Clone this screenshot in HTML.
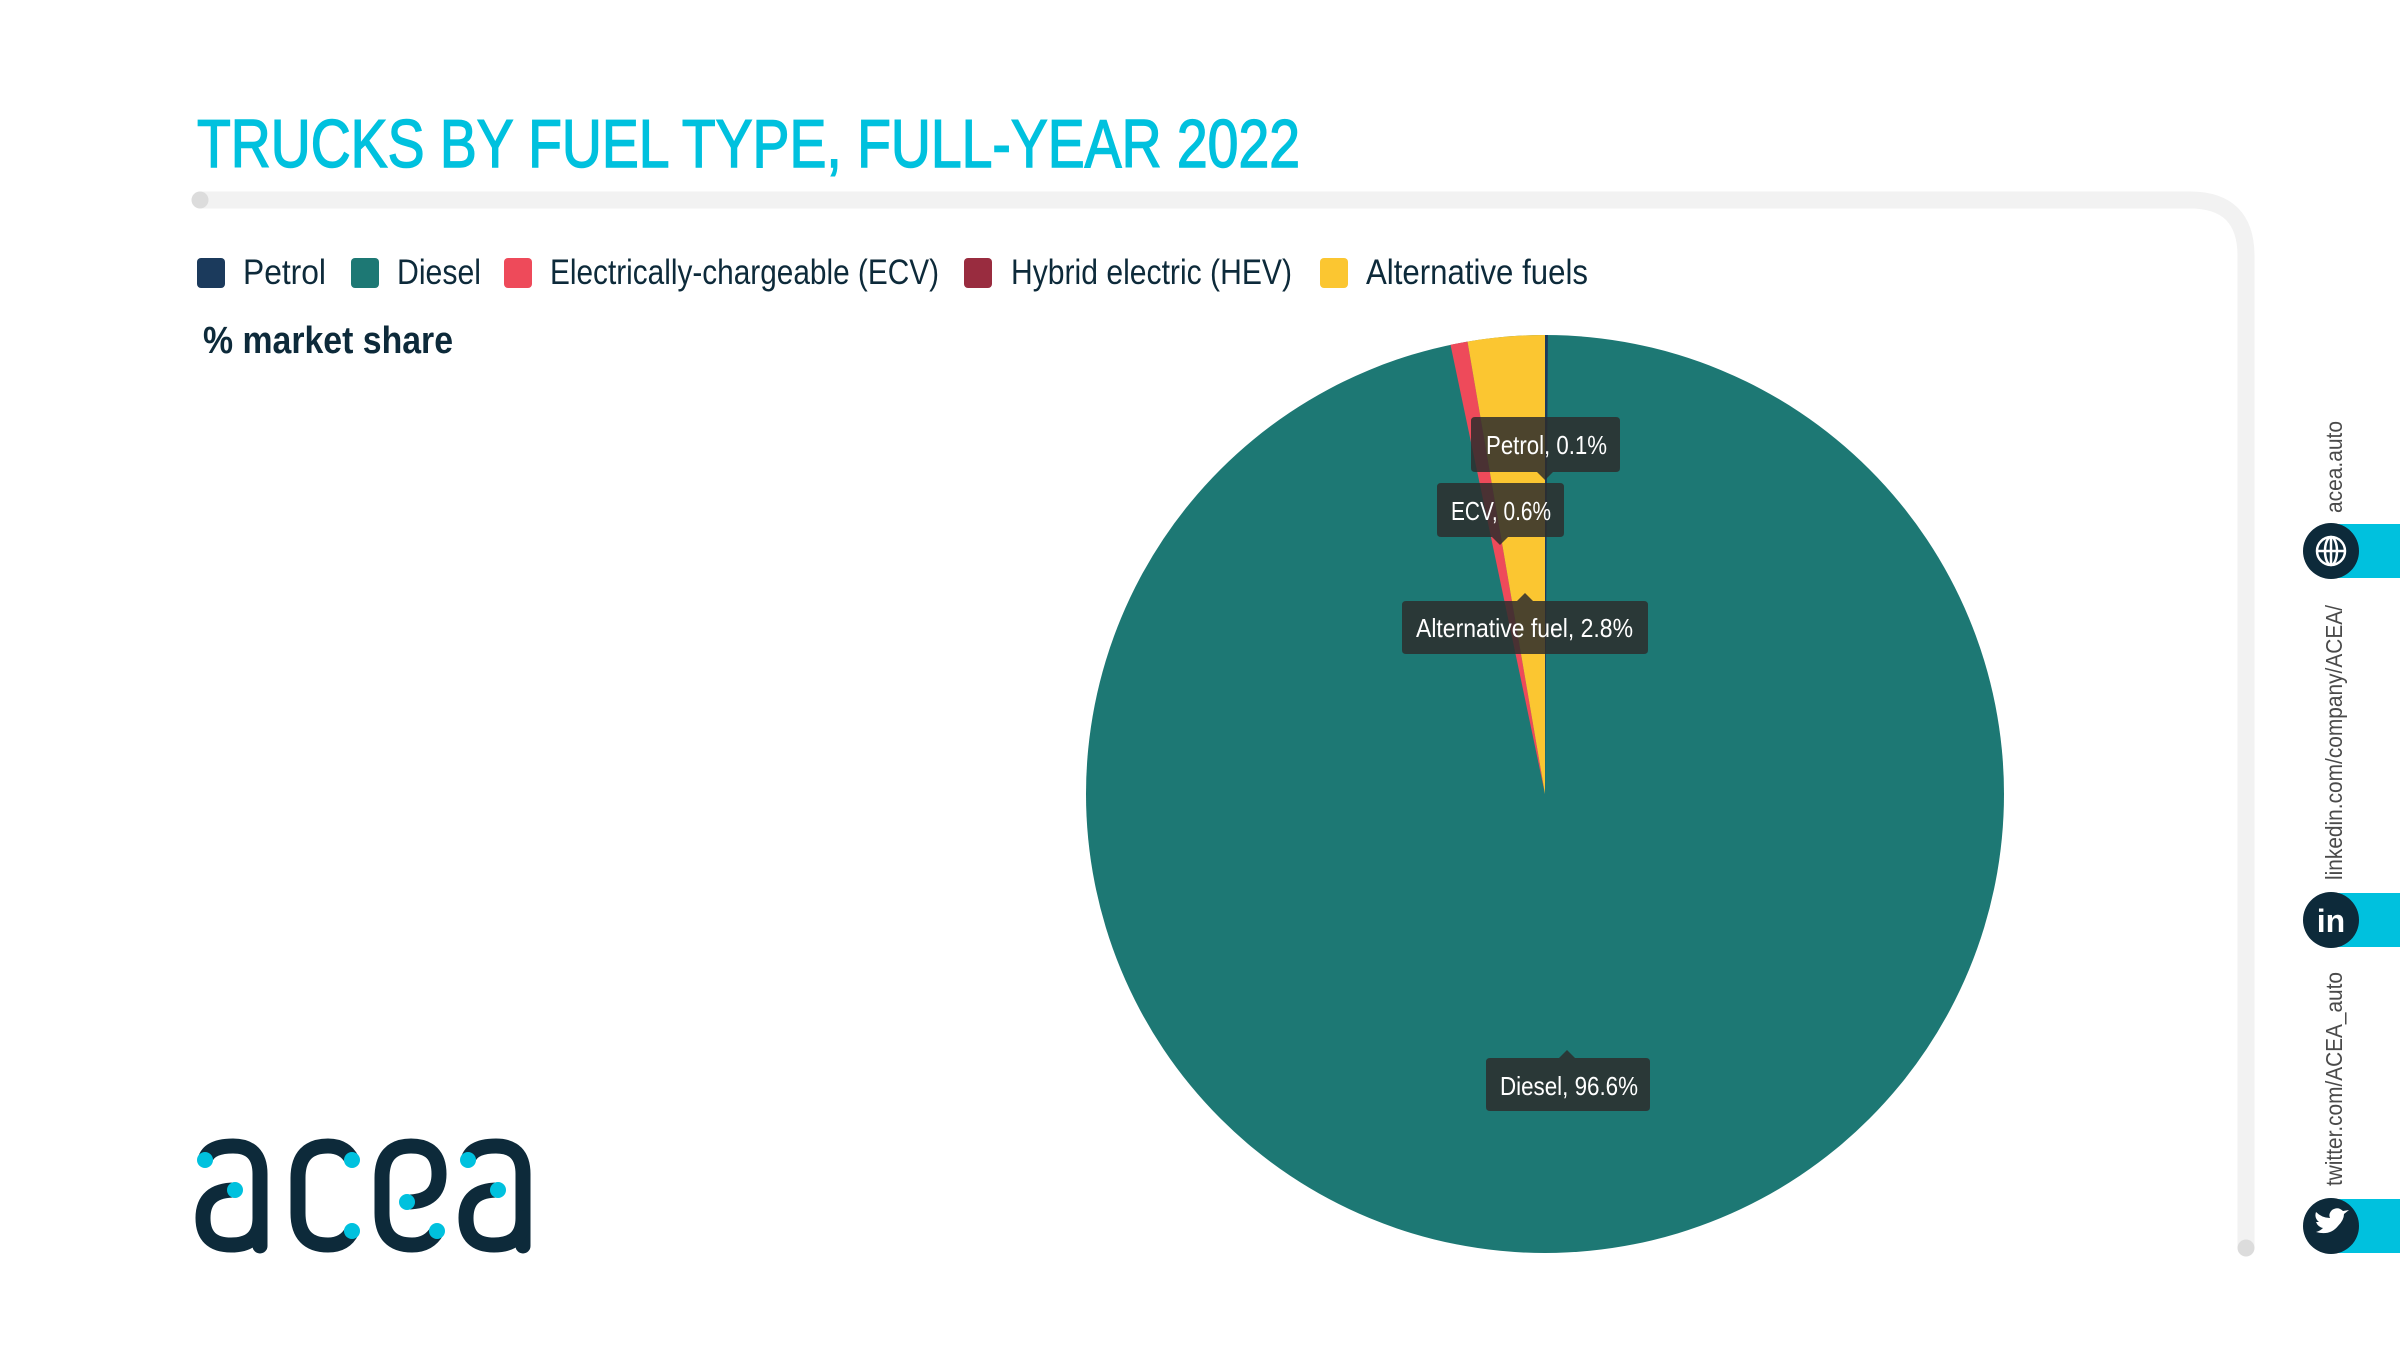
<!DOCTYPE html>
<html><head><meta charset="utf-8"><style>
html,body{margin:0;padding:0;background:#fff;}
svg{display:block;}
</style></head><body>
<svg width="2400" height="1350" viewBox="0 0 2400 1350" xmlns="http://www.w3.org/2000/svg" font-family="'Liberation Sans', sans-serif">
<rect width="2400" height="1350" fill="#fff"/>
<!-- title -->
<text x="197" y="167" font-size="68" fill="#00c1de" stroke="#00c1de" stroke-width="1.5" textLength="1103" lengthAdjust="spacingAndGlyphs">TRUCKS BY FUEL TYPE, FULL-YEAR 2022</text>
<!-- frame bar -->
<path d="M200 200 L2190 200 Q2246 200 2246 256 L2246 1248" fill="none" stroke="#f2f2f2" stroke-width="17"/>
<circle cx="200" cy="200" r="8.5" fill="#dcdcdc"/>
<circle cx="2246" cy="1248" r="8.5" fill="#dcdcdc"/>
<!-- legend -->
<g font-size="35" fill="#0d2a3a">
<rect x="197" y="258" width="28" height="30" rx="4" fill="#1b3a5c"/>
<text x="243" y="284" textLength="83" lengthAdjust="spacingAndGlyphs">Petrol</text>
<rect x="351" y="258" width="28" height="30" rx="4" fill="#1d7874"/>
<text x="397" y="284" textLength="84" lengthAdjust="spacingAndGlyphs">Diesel</text>
<rect x="504" y="258" width="28" height="30" rx="4" fill="#ee4a5a"/>
<text x="550" y="284" textLength="389" lengthAdjust="spacingAndGlyphs">Electrically-chargeable (ECV)</text>
<rect x="964" y="258" width="28" height="30" rx="4" fill="#992c3f"/>
<text x="1011" y="284" textLength="281" lengthAdjust="spacingAndGlyphs">Hybrid electric (HEV)</text>
<rect x="1320" y="258" width="28" height="30" rx="4" fill="#fbc631"/>
<text x="1366" y="284" textLength="222" lengthAdjust="spacingAndGlyphs">Alternative fuels</text>
</g>
<text x="203" y="353" font-size="38" font-weight="bold" fill="#0d2a3a" textLength="250" lengthAdjust="spacingAndGlyphs">% market share</text>
<!-- pie -->
<circle cx="1545" cy="794" r="459" fill="#1d7874"/>
<path d="M1545 794 L1450.5 344.8 A459 459 0 0 1 1467.5 341.6 Z" fill="#ee4a5a"/>
<path d="M1545 794 L1467.5 341.6 A459 459 0 0 1 1545 335 Z" fill="#fbc631"/>
<path d="M1545 794 L1545 335 A459 459 0 0 1 1547.9 335 Z" fill="#1b3a5c"/>
<!-- tooltips -->
<g fill="rgba(45,45,45,0.85)">
<path d="M1475 417 H1616 Q1620 417 1620 421 V468 Q1620 472 1616 472 H1553 L1545 480 L1537 472 H1475 Q1471 472 1471 468 V421 Q1471 417 1475 417 Z"/>
<path d="M1441 483 H1560 Q1564 483 1564 487 V533 Q1564 537 1560 537 H1508 L1500 545 L1492 537 H1441 Q1437 537 1437 533 V487 Q1437 483 1441 483 Z"/>
<path d="M1406 601 H1517 L1525 593 L1533 601 H1644 Q1648 601 1648 605 V650 Q1648 654 1644 654 H1406 Q1402 654 1402 650 V605 Q1402 601 1406 601 Z"/>
<path d="M1490 1058 H1559 L1567 1050 L1575 1058 H1646 Q1650 1058 1650 1062 V1107 Q1650 1111 1646 1111 H1490 Q1486 1111 1486 1107 V1062 Q1486 1058 1490 1058 Z"/>
</g>
<g font-size="26" fill="#fff">
<text x="1486" y="454" textLength="121" lengthAdjust="spacingAndGlyphs">Petrol, 0.1%</text>
<text x="1451" y="520" textLength="100" lengthAdjust="spacingAndGlyphs">ECV, 0.6%</text>
<text x="1416" y="637" textLength="217" lengthAdjust="spacingAndGlyphs">Alternative fuel, 2.8%</text>
<text x="1500" y="1095" textLength="138" lengthAdjust="spacingAndGlyphs">Diesel, 96.6%</text>
</g>
<!-- sidebar -->
<g fill="#00c1de">
<rect x="2335" y="524" width="65" height="54"/>
<rect x="2335" y="893" width="65" height="54"/>
<rect x="2335" y="1199" width="65" height="54"/>
</g>
<g fill="#0d2a3a">
<circle cx="2331" cy="551" r="28"/>
<circle cx="2331" cy="920" r="28"/>
<circle cx="2331" cy="1226" r="28"/>
</g>
<g fill="none" stroke="#fff" stroke-width="2.5">
<circle cx="2331" cy="551" r="14"/>
<ellipse cx="2331" cy="551" rx="6" ry="14"/>
<line x1="2317" y1="551" x2="2345" y2="551"/>
<line x1="2331" y1="537" x2="2331" y2="565"/>
</g>
<text x="2331" y="932" font-size="32" font-weight="bold" fill="#fff" text-anchor="middle">in</text>
<path d="M2316 1232 Q2330 1236 2338 1226 Q2344 1220 2344 1214 L2349 1210 L2343 1211 Q2338 1206 2332 1210 Q2328 1214 2330 1218 Q2322 1218 2316 1212 Q2314 1218 2319 1222 L2316 1222 Q2318 1227 2323 1228 Q2320 1231 2316 1232 Z" fill="#fff"/>
<g font-size="23" fill="#4a4a4a">
<text transform="translate(2342,513) rotate(-90)" textLength="92" lengthAdjust="spacingAndGlyphs">acea.auto</text>
<text transform="translate(2342,880) rotate(-90)" textLength="275" lengthAdjust="spacingAndGlyphs">linkedin.com/company/ACEA/</text>
<text transform="translate(2342,1186) rotate(-90)" textLength="214" lengthAdjust="spacingAndGlyphs">twitter.com/ACEA_auto</text>
</g>
<!-- logo -->
<g fill="none" stroke="#0d2a3a" stroke-width="15" stroke-linecap="round">
<g transform="translate(195,1138)">
<path d="M10 22 Q14 8 38 8 Q65 8 65 36 L65 108"/>
<path d="M40 52 Q8 52 8 80 Q8 107 36 107 Q65 107 65 80"/>
</g>
<g transform="translate(290,1138)">
<path d="M62 22 Q55 8 38 8 Q8 8 8 40 L8 75 Q8 107 38 107 Q55 107 62 93"/>
</g>
<g transform="translate(374,1138)">
<path d="M33 64 Q65 64 65 36 Q65 8 37 8 Q8 8 8 40 L8 75 Q8 107 38 107 Q55 107 63 93"/>
</g>
<g transform="translate(458,1138)">
<path d="M10 22 Q14 8 38 8 Q65 8 65 36 L65 108"/>
<path d="M40 52 Q8 52 8 80 Q8 107 36 107 Q65 107 65 80"/>
</g>
</g>
<g fill="#00c1de">
<circle cx="205" cy="1160" r="8"/><circle cx="235" cy="1190" r="8"/>
<circle cx="352" cy="1160" r="8"/><circle cx="352" cy="1231" r="8"/>
<circle cx="407" cy="1202" r="8"/><circle cx="437" cy="1231" r="8"/>
<circle cx="468" cy="1160" r="8"/><circle cx="498" cy="1190" r="8"/>
</g>
</svg>
</body></html>
